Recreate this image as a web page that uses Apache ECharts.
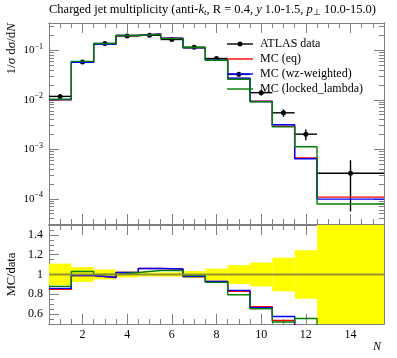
<!DOCTYPE html>
<html><head><meta charset="utf-8">
<script src="https://cdn.jsdelivr.net/npm/echarts@6/dist/echarts.min.js"></script>
<style>html,body{margin:0;padding:0;background:#fff}#c{width:397px;height:358px}</style>
</head><body><div id="c"></div>
<script>
// ---- data ----
const binEdges   = [0.5,1.5,2.5,3.5,4.5,5.5,6.5,7.5,8.5,9.5,10.5,11.5,12.5,15.5];
const binCenters = [1,2,3,4,5,6,7,8,9,10,11,12,14];
const dataValues = [0.0117,0.058,0.1367,0.195,0.201,0.165,0.115,0.068,0.0326,0.0139,0.00545,0.00202,0.000328];
const dataRelErr = [0.11,0.075,0.05,0.03,0.02,0.022,0.035,0.06,0.095,0.12,0.17,0.245,0.83];
const mcEq     = [0.00995,0.0574,0.1326,0.1989,0.2131,0.1741,0.1127,0.0632,0.02706,0.00938,0.002916,0.000667,0.000108];
const mcWz     = [0.01006,0.0574,0.1326,0.1989,0.2131,0.1741,0.1127,0.0632,0.02738,0.00924,0.003134,0.000646,0.0000984];
const mcLocked = [0.0103,0.05974,0.1367,0.1989,0.209,0.1716,0.1139,0.0626,0.02592,0.0091,0.002834,0.001123,0.0000787];
const ratioRefLine = [[0.5,1],[15.5,1]];
// ---- ticks ----
const xMajorTicks = [2,4,6,8,10,12,14];
const xMinorTicks = [1,1.5,2.5,3,3.5,4.5,5,5.5,6.5,7,7.5,8.5,9,9.5,10.5,11,11.5,12.5,13,13.5,14.5,15];
const yLogMajor = [1e-4,1e-3,1e-2,1e-1];
const yLogMinor = [4e-5,5e-5,6e-5,7e-5,8e-5,9e-5,2e-4,3e-4,4e-4,5e-4,6e-4,7e-4,8e-4,9e-4,
  2e-3,3e-3,4e-3,5e-3,6e-3,7e-3,8e-3,9e-3,2e-2,3e-2,4e-2,5e-2,6e-2,7e-2,8e-2,9e-2,2e-1,3e-1];
const yLogLabels = ['10{e|\u22124}','10{e|\u22123}','10{e|\u22122}','10{e|\u22121}'];
const ratioMajor = [0.6,0.8,1,1.2,1.4];
const ratioMinor = [0.55,0.65,0.7,0.75,0.85,0.9,0.95,1.05,1.1,1.15,1.25,1.3,1.35,1.45];

const FONT = 'Liberation Serif';
const AX = '#808080';
const REF = '#8f8f2e';
const X_MIN = 0.5, X_MAX = 15.5, Y_MIN = 3.1e-5, Y_MAX = 0.355, R_MIN = 0.5, R_MAX = 1.5;

function steps(vals){ const p=[]; vals.forEach((v,i)=>{p.push([binEdges[i],v]); p.push([binEdges[i+1],v]);}); return p; }
function ratio(vals){ return vals.map((v,i)=>v/dataValues[i]); }

function xAx(grid, pos, ticks, len, labels){
  return { type:'value', gridIndex:grid, position:pos, min:X_MIN, max:X_MAX,
    axisLine:{show:true, onZero:false, lineStyle:{color:AX,width:1}},
    axisTick:{show:true, inside:true, length:len, customValues:ticks, lineStyle:{color:AX,width:1}},
    axisLabel:{show:!!labels, customValues:ticks, margin:5, color:'#000', fontFamily:FONT, fontSize:12},
    splitLine:{show:false}, axisPointer:{show:false} };
}
function yLog(pos, ticks, len, labels){
  return { type:'log', logBase:10, gridIndex:0, position:pos, min:Y_MIN, max:Y_MAX,
    axisLine:{show:true, onZero:false, lineStyle:{color:AX,width:1}},
    axisTick:{show:true, inside:true, length:len, customValues:ticks, lineStyle:{color:AX,width:1}},
    axisLabel:{show:!!labels, customValues:ticks, margin:6, color:'#000', fontFamily:FONT, fontSize:11,
      formatter:(v)=>{ const i=yLogMajor.findIndex(t=>Math.abs(Math.log10(t)-Math.log10(v))<1e-6); return i>=0?yLogLabels[i]:''; },
      rich:{e:{fontSize:8, fontFamily:FONT, color:'#000', padding:[0,0,7,0]}}},
    splitLine:{show:false}, minorSplitLine:{show:false} };
}
function yRat(pos, ticks, len, labels){
  return { type:'value', gridIndex:1, position:pos, min:R_MIN, max:R_MAX,
    axisLine:{show:true, onZero:false, lineStyle:{color:AX,width:1}},
    axisTick:{show:true, inside:true, length:len, customValues:ticks, lineStyle:{color:AX,width:1}},
    axisLabel:{show:!!labels, customValues:ticks, margin:6, color:'#000', fontFamily:FONT, fontSize:12,
      formatter:(v)=>String(Math.round(v*10)/10)},
    splitLine:{show:false} };
}

const chart = echarts.init(document.getElementById('c'), null, {renderer:'canvas'});
const mcLine = (name, vals, color, xi, yi, z) => ({ name, type:'line', xAxisIndex:xi, yAxisIndex:yi, data:vals,
  symbol:'none', lineStyle:{color, width:1.4}, itemStyle:{color}, clip:true, z, animation:false });

const T = {fontFamily:FONT, fontSize:12.5, fontWeight:'normal', color:'#000'};
const option = {
  animation:false,
  backgroundColor:'#fff',
  title:{ left:49, top:3, padding:0, text:'{a|Charged jet multiplicity (anti-}{i|k}{s|t}{a|, R = 0.4, }{i|y}{a| 1.0-1.5, }{i|p}{u|\u22a5}{a| 10.0-15.0)}',
    textStyle:{ fontWeight:'normal', fontFamily:FONT, fontSize:12.5, rich:{ a:T, i:Object.assign({},T,{fontStyle:'italic'}),
      s:Object.assign({},T,{fontSize:9,fontStyle:'italic',padding:[5,0,0,0]}),
      u:Object.assign({},T,{fontSize:9,padding:[5,0,0,0]}) } } },
  grid:[ {left:49, right:13, top:23, height:201}, {left:49, right:13, top:225, height:99} ],
  xAxis:[
    xAx(0,'bottom',xMajorTicks,10,false),
    xAx(0,'top',xMajorTicks,10,false),
    xAx(0,'bottom',xMinorTicks,5,false),
    xAx(0,'top',xMinorTicks,5,false),
    xAx(1,'bottom',xMajorTicks,10,true),
    xAx(1,'top',xMajorTicks,10,false),
    xAx(1,'bottom',xMinorTicks,5,false),
    xAx(1,'top',xMinorTicks,5,false)
  ],
  yAxis:[
    yLog('left',yLogMajor,10,true),
    yLog('right',yLogMajor,10,false),
    yLog('left',yLogMinor,5,false),
    yLog('right',yLogMinor,5,false),
    yRat('left',ratioMajor,10,true),
    yRat('right',ratioMajor,10,false),
    yRat('left',ratioMinor,5,false),
    yRat('right',ratioMinor,5,false)
  ],
  graphic:[
    {id:'ylab', type:'text', x:12, y:23, rotation:Math.PI/2, style:{text:'1/{i|\u03c3} d{i|\u03c3}/d{i|N}', align:'right', verticalAlign:'middle',
      font:'13px '+FONT, fill:'#000', rich:{i:{fontStyle:'italic',fontFamily:FONT,fontSize:13,color:'#000'}}}},
    {id:'rlab', type:'text', x:12, y:274.5, rotation:Math.PI/2, style:{text:'MC/data', align:'center', verticalAlign:'middle', font:'12.5px '+FONT, fill:'#000'}},
    {id:'xlab', type:'text', x:377, y:347, style:{text:'N', align:'center', verticalAlign:'middle', font:'italic 12px '+FONT, fill:'#000'}},
    // legend
    {id:'l1', type:'line', shape:{x1:227,y1:44,x2:253,y2:44}, style:{stroke:'#000',lineWidth:1.4}, z:50},
    {id:'l1c', type:'circle', shape:{cx:240,cy:44,r:2.5}, style:{fill:'#000'}, z:50},
    {id:'l1t', type:'text', x:260, y:44, style:{text:'ATLAS data', verticalAlign:'middle', font:'12px '+FONT, fill:'#000'}, z:50},
    {id:'l2', type:'line', shape:{x1:227,y1:59,x2:253,y2:59}, style:{stroke:'#ff0000',lineWidth:1.4}, z:50},
    {id:'l2t', type:'text', x:260, y:59, style:{text:'MC (eq)', verticalAlign:'middle', font:'12px '+FONT, fill:'#000'}, z:50},
    {id:'l3', type:'line', shape:{x1:227,y1:74,x2:253,y2:74}, style:{stroke:'#0000ff',lineWidth:1.4}, z:50},
    {id:'l3t', type:'text', x:260, y:74, style:{text:'MC (wz-weighted)', verticalAlign:'middle', font:'12px '+FONT, fill:'#000'}, z:50},
    {id:'l4', type:'line', shape:{x1:227,y1:89,x2:253,y2:89}, style:{stroke:'#008000',lineWidth:1.4}, z:50},
    {id:'l4t', type:'text', x:260, y:89, style:{text:'MC (locked_lambda)', verticalAlign:'middle', font:'12px '+FONT, fill:'#000'}, z:50}
  ],
  series:[
    { name:'ATLAS data', type:'custom', xAxisIndex:0, yAxisIndex:0, z:3,
      data: binCenters.map((c,i)=>[c, dataValues[i], binEdges[i], binEdges[i+1], dataRelErr[i]]),
      encode:{x:0, y:1},
      renderItem:(params, api)=>{
        const c=api.value(0), v=api.value(1), lo=api.value(2), hi=api.value(3), r=api.value(4);
        const pL=api.coord([lo,v]), pR=api.coord([hi,v]);
        const pT=api.coord([c,v*(1+r)]), pB=api.coord([c,v*(1-r)]), pC=api.coord([c,v]);
        return {type:'group', children:[
          {type:'line', shape:{x1:pL[0],y1:pL[1],x2:pR[0],y2:pR[1]}, style:{stroke:'#000',lineWidth:1.4}},
          {type:'line', shape:{x1:pT[0],y1:pT[1],x2:pB[0],y2:pB[1]}, style:{stroke:'#000',lineWidth:1.4}},
          {type:'circle', shape:{cx:pC[0],cy:pC[1],r:2.5}, style:{fill:'#000'}}
        ]};
      } },
    mcLine('MC (eq)', steps(mcEq), '#ff0000', 0, 0, 4),
    mcLine('MC (wz-weighted)', steps(mcWz), '#0000ff', 0, 0, 5),
    mcLine('MC (locked_lambda)', steps(mcLocked), '#008000', 0, 0, 6),
    { name:'data uncertainty', type:'custom', xAxisIndex:4, yAxisIndex:4, z:1,
      data: binCenters.map((c,i)=>[c, 1, binEdges[i], binEdges[i+1], dataRelErr[i]]),
      encode:{x:0, y:1},
      renderItem:(params, api)=>{
        const lo=api.value(2), hi=api.value(3), r=api.value(4);
        const p1=api.coord([lo,1+r]), p2=api.coord([hi,1-r]);
        const cs=params.coordSys;
        const rect=echarts.graphic.clipRectByRect({x:p1[0],y:p1[1],width:p2[0]-p1[0],height:p2[1]-p1[1]},
          {x:cs.x,y:cs.y,width:cs.width,height:cs.height});
        return rect ? {type:'rect', shape:rect, style:{fill:'#ffff00', stroke:null, lineWidth:0}} : null;
      } },
    mcLine('MC (eq) ratio', steps(ratio(mcEq)), '#ff0000', 4, 4, 4),
    mcLine('MC (wz-weighted) ratio', steps(ratio(mcWz)), '#0000ff', 4, 4, 5),
    mcLine('MC (locked_lambda) ratio', steps(ratio(mcLocked)), '#008000', 4, 4, 6),
    { name:'data reference', type:'custom', xAxisIndex:4, yAxisIndex:4, z:20, zlevel:1,
      data: ratioRefLine, encode:{x:0, y:1},
      renderItem:(params, api)=>{
        if (params.dataIndex !== 0) return null;
        const a=api.coord(ratioRefLine[0]), b=api.coord(ratioRefLine[1]);
        return {type:'line', shape:{x1:a[0],y1:a[1],x2:b[0],y2:b[1]}, style:{stroke:REF,lineWidth:1.6}};
      } }
  ]
};
chart.setOption(option);
// reference line at ratio 1, placed through the ratio axes' own scale
const pA = chart.convertToPixel({xAxisIndex:4, yAxisIndex:4}, ratioRefLine[0]);
const pB = chart.convertToPixel({xAxisIndex:4, yAxisIndex:4}, ratioRefLine[1]);
if (pA && pB) {
  chart.setOption({ graphic:{ elements:[ {id:'refline', type:'line', z:40, zlevel:2,
    shape:{x1:pA[0], y1:pA[1], x2:pB[0], y2:pB[1]}, style:{stroke:REF, lineWidth:1.6}} ] } });
}
</script></body></html>
